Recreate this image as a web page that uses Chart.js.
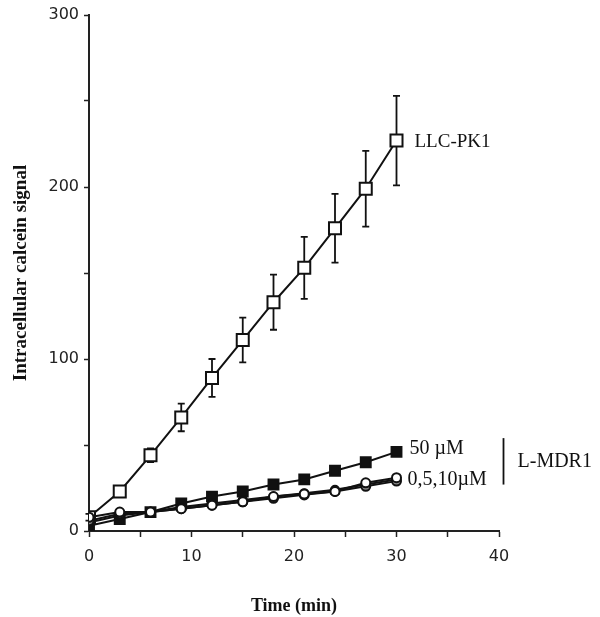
<!DOCTYPE html>
<html>
<head>
<meta charset="utf-8">
<script src="https://cdn.jsdelivr.net/npm/chart.js@4/dist/chart.umd.min.js"></script>
<style>
  html, body { margin: 0; padding: 0; background: #fff; }
  #wrap { width: 600px; height: 617px; }
</style>
</head>
<body>
<div id="wrap"><canvas id="chart" width="600" height="617"></canvas></div>
<script>
const times = [0, 3, 6, 9, 12, 15, 18, 21, 24, 27, 30];
const llcPk1 = [8, 23, 44, 66, 89, 111, 133, 153, 176, 199, 227];
const llcPk1Err = [2, 3, 4, 8, 11, 13, 16, 18, 20, 22, 26];
const mdr50 = [3, 7, 11, 16, 20, 23, 27, 30, 35, 40, 46];
const mdr0 = [8, 11, 11, 13, 15, 17, 20, 21.5, 23, 28, 31];
const mdr5 = [6, 10, 11, 13, 15, 17, 19, 21, 23, 26, 29];
const mdr10 = [5, 9, 11, 14, 16, 18, 20, 22, 24, 27, 30];
const xTickLabels = [0, 10, 20, 30, 40];
const yTickLabels = [0, 100, 200, 300];

const toPoints = (values) => values.map((v, i) => ({ x: times[i], y: v }));

const serif = "'Liberation Serif', 'DejaVu Serif', serif";
const sans = "'DejaVu Sans', 'Liberation Sans', sans-serif";

const lineSet = (label, values, style, fill, radius) => ({
  label,
  data: toPoints(values),
  borderColor: "#111",
  borderWidth: 2,
  pointStyle: style,
  pointRadius: radius,
  pointBackgroundColor: fill,
  pointBorderColor: "#111",
  pointBorderWidth: 2,
  tension: 0,
});

// error bars for the LLC-PK1 series, drawn under the markers
const errorBars = {
  id: "errorBars",
  beforeDatasetsDraw(chart) {
    const { ctx, scales } = chart;
    ctx.save();
    ctx.strokeStyle = "#111";
    ctx.lineWidth = 1.8;
    times.forEach((t, i) => {
      const x = scales.x.getPixelForValue(t);
      const top = scales.y.getPixelForValue(llcPk1[i] + llcPk1Err[i]);
      const bot = scales.y.getPixelForValue(llcPk1[i] - llcPk1Err[i]);
      ctx.beginPath();
      ctx.moveTo(x, top);
      ctx.lineTo(x, bot);
      ctx.moveTo(x - 3.5, top);
      ctx.lineTo(x + 3.5, top);
      ctx.moveTo(x - 3.5, bot);
      ctx.lineTo(x + 3.5, bot);
      ctx.stroke();
    });
    ctx.restore();
  },
};

// series labels at the right end of the lines
const seriesLabels = {
  id: "seriesLabels",
  afterDraw(chart) {
    const { ctx, scales } = chart;
    const xEnd = scales.x.getPixelForValue(30);
    ctx.save();
    ctx.fillStyle = "#111";
    ctx.textBaseline = "middle";
    ctx.font = `19px ${serif}`;
    ctx.fillText("LLC-PK1", xEnd + 18, scales.y.getPixelForValue(227) + 1);
    ctx.font = `20px ${serif}`;
    ctx.fillText("50 \u00b5M", xEnd + 13, scales.y.getPixelForValue(48));
    ctx.fillText("0,5,10\u00b5M", xEnd + 11, scales.y.getPixelForValue(30));
    ctx.fillText("L-MDR1", xEnd + 121, scales.y.getPixelForValue(40));
    ctx.strokeStyle = "#111";
    ctx.lineWidth = 1.8;
    ctx.beginPath();
    ctx.moveTo(xEnd + 107, scales.y.getPixelForValue(54));
    ctx.lineTo(xEnd + 107, scales.y.getPixelForValue(27));
    ctx.stroke();
    ctx.restore();
  },
};

new Chart(document.getElementById("chart"), {
  type: "line",
  data: {
    datasets: [
      lineSet("0 \u00b5M", mdr0, "circle", "#fff", 4.5),
      lineSet("5 \u00b5M", mdr5, "circle", "#888", 4.5),
      lineSet("10 \u00b5M", mdr10, "circle", "#555", 4),
      lineSet("50 \u00b5M", mdr50, "rect", "#111", 7),
      lineSet("LLC-PK1", llcPk1, "rect", "#fff", 8.5),
    ],
  },
  plugins: [errorBars, seriesLabels],
  options: {
    responsive: false,
    animation: false,
    layout: { padding: { left: 0, top: 15, right: 101, bottom: 0 } },
    plugins: {
      legend: { display: false },
      tooltip: { enabled: false },
    },
    scales: {
      x: {
        type: "linear",
        min: 0,
        max: 40,
        afterFit: (s) => { s.height = 86; },
        border: { display: true, color: "#222", width: 2 },
        grid: { drawOnChartArea: false, color: "#222", tickLength: 6, tickWidth: 1.5 },
        ticks: {
          stepSize: 5,
          autoSkip: false,
          maxRotation: 0,
          padding: 10,
          color: "#222",
          font: { family: sans, size: 16 },
          callback: (v) => (xTickLabels.includes(v) ? String(v) : ""),
        },
        title: {
          display: true,
          text: "Time (min)",
          color: "#111",
          font: { family: serif, size: 18, weight: "bold" },
          padding: { top: 18, bottom: 0 },
        },
      },
      y: {
        min: 0,
        max: 300,
        afterFit: (s) => { s.width = 89; },
        border: { display: true, color: "#222", width: 2 },
        grid: { drawOnChartArea: false, color: "#222", tickLength: 5, tickWidth: 1.5 },
        ticks: {
          stepSize: 50,
          autoSkip: false,
          padding: 5,
          color: "#222",
          font: { family: sans, size: 16 },
          callback: (v) => (yTickLabels.includes(v) ? String(v) : ""),
        },
        title: {
          display: true,
          text: "Intracellular calcein signal",
          color: "#111",
          font: { family: serif, size: 19, weight: "bold" },
          padding: { top: 10, bottom: 0 },
        },
      },
    },
  },
});
</script>
</body>
</html>
